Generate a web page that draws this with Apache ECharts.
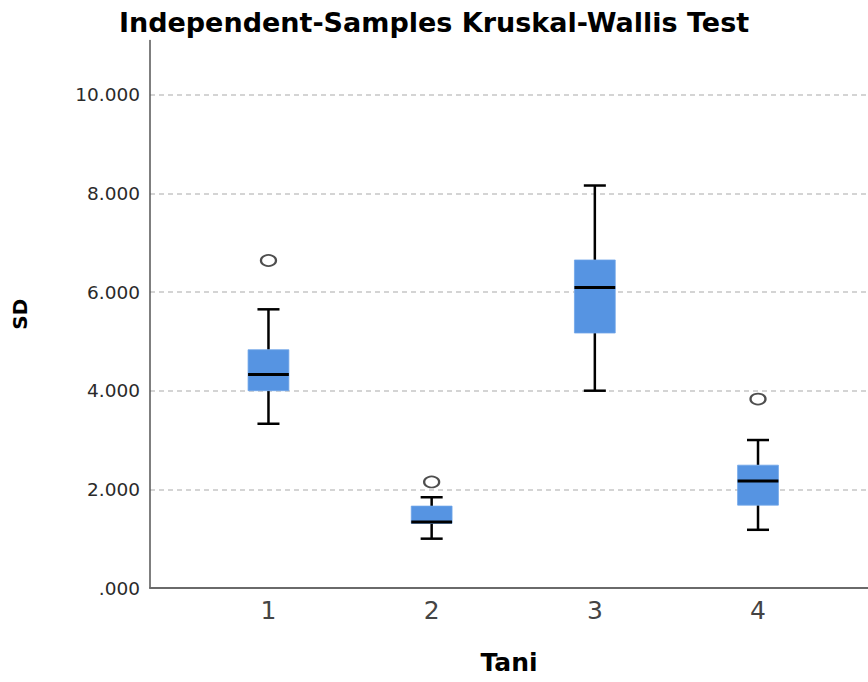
<!DOCTYPE html>
<html>
<head>
<meta charset="utf-8">
<script src="https://cdn.jsdelivr.net/npm/echarts/dist/echarts.min.js"></script>
<style>
html,body{margin:0;padding:0;background:#fff;}
#chart{width:868px;height:682px;}
</style>
</head>
<body>
<div id="chart"></div>
<script>
// ---- data ----
const categories = [1, 2, 3, 4];
const whiskerLow  = [3.33, 1.00, 4.00, 1.18];
const q1          = [4.00, 1.31, 5.17, 1.68];
const median      = [4.33, 1.34, 6.09, 2.17];
const q3          = [4.83, 1.66, 6.65, 2.49];
const whiskerHigh = [5.65, 1.84, 8.16, 3.00];
const outlierGroup = [1, 2, 4];
const outlierValue = [6.64, 2.15, 3.83];
const yTicks = [0, 2, 4, 6, 8, 10];

const boxData = categories.map((c, i) => [c, whiskerLow[i], q1[i], median[i], q3[i], whiskerHigh[i]]);
const outlierData = outlierGroup.map((g, i) => [g, outlierValue[i]]);

const FONT = 'DejaVu Sans';
const chart = echarts.init(document.getElementById('chart'), null, {renderer: 'svg'});

function renderBox(params, api) {
  const x = api.value(0);
  const pLow = api.coord([x, api.value(1)]);
  const pQ1 = api.coord([x, api.value(2)]);
  const pMed = api.coord([x, api.value(3)]);
  const pQ3 = api.coord([x, api.value(4)]);
  const pHigh = api.coord([x, api.value(5)]);
  const half = api.size([0.25, 0])[0] / 2;
  const capHalf = api.size([0.135, 0])[0] / 2;
  const cx = pMed[0];
  const black = {stroke: '#000', lineWidth: 2.5};
  return {
    type: 'group',
    children: [
      {type: 'line', shape: {x1: cx, y1: pLow[1], x2: cx, y2: pQ1[1]}, style: black},
      {type: 'line', shape: {x1: cx, y1: pQ3[1], x2: cx, y2: pHigh[1]}, style: black},
      {type: 'line', shape: {x1: cx - capHalf, y1: pLow[1], x2: cx + capHalf, y2: pLow[1]}, style: black},
      {type: 'line', shape: {x1: cx - capHalf, y1: pHigh[1], x2: cx + capHalf, y2: pHigh[1]}, style: black},
      {type: 'rect', shape: {x: cx - half, y: pQ3[1], width: half * 2, height: pQ1[1] - pQ3[1]},
        style: {fill: '#5694e2', stroke: '#6ea4e8', lineWidth: 0.8}},
      {type: 'line', shape: {x1: cx - half, y1: pMed[1], x2: cx + half, y2: pMed[1]}, style: {stroke: '#000', lineWidth: 3}}
    ]
  };
}

const option = {
  backgroundColor: '#fff',
  animation: false,
  title: {
    text: 'Independent-Samples Kruskal-Wallis Test',
    left: 'center',
    top: 4,
    textStyle: {fontFamily: FONT, fontWeight: 'bold', fontSize: 27, color: '#000'}
  },
  grid: {left: 150, right: 0, top: 40.5, bottom: 94, containLabel: false},
  xAxis: {
    type: 'value',
    min: 0.274,
    max: 4.674,
    name: 'Tani',
    nameLocation: 'middle',
    nameGap: 62,
    nameTextStyle: {fontFamily: FONT, fontWeight: 'bold', fontSize: 25, color: '#000'},
    axisLine: {show: true, lineStyle: {color: '#6a6a6a', width: 2}},
    axisTick: {show: false},
    splitLine: {show: false},
    axisLabel: {
      customValues: categories,
      fontFamily: FONT, fontSize: 25, color: '#444', margin: 10,
      formatter: v => String(v)
    }
  },
  yAxis: {
    type: 'value',
    min: 0,
    max: 11.1,
    interval: 2,
    name: 'SD',
    nameLocation: 'middle',
    nameGap: 120,
    nameRotate: 90,
    nameTextStyle: {fontFamily: FONT, fontWeight: 'bold', fontSize: 20, color: '#000'},
    axisLine: {show: true, lineStyle: {color: '#555', width: 1.5}},
    axisTick: {show: false},
    axisLabel: {
      customValues: yTicks,
      fontFamily: FONT, fontSize: 18.5, color: '#2a2a2a', margin: 10,
      formatter: v => v === 0 ? '.000' : v.toFixed(3)
    },
    splitLine: {
      show: true,
      lineStyle: {color: ['#c6c6c6','#c6c6c6','#c6c6c6','#c6c6c6','#c6c6c6','#c6c6c6','rgba(0,0,0,0)'], type: [5, 4], width: 1.5}
    }
  },
  series: [
    {
      type: 'custom',
      renderItem: renderBox,
      data: boxData,
      encode: {x: 0, y: [1, 2, 3, 4, 5]},
      z: 3
    },
    {
      type: 'scatter',
      data: outlierData,
      symbol: 'circle',
      symbolSize: [15, 11],
      itemStyle: {color: '#fff', borderColor: '#222', borderWidth: 2},
      z: 4
    }
  ]
};
chart.setOption(option);
</script>
</body>
</html>
